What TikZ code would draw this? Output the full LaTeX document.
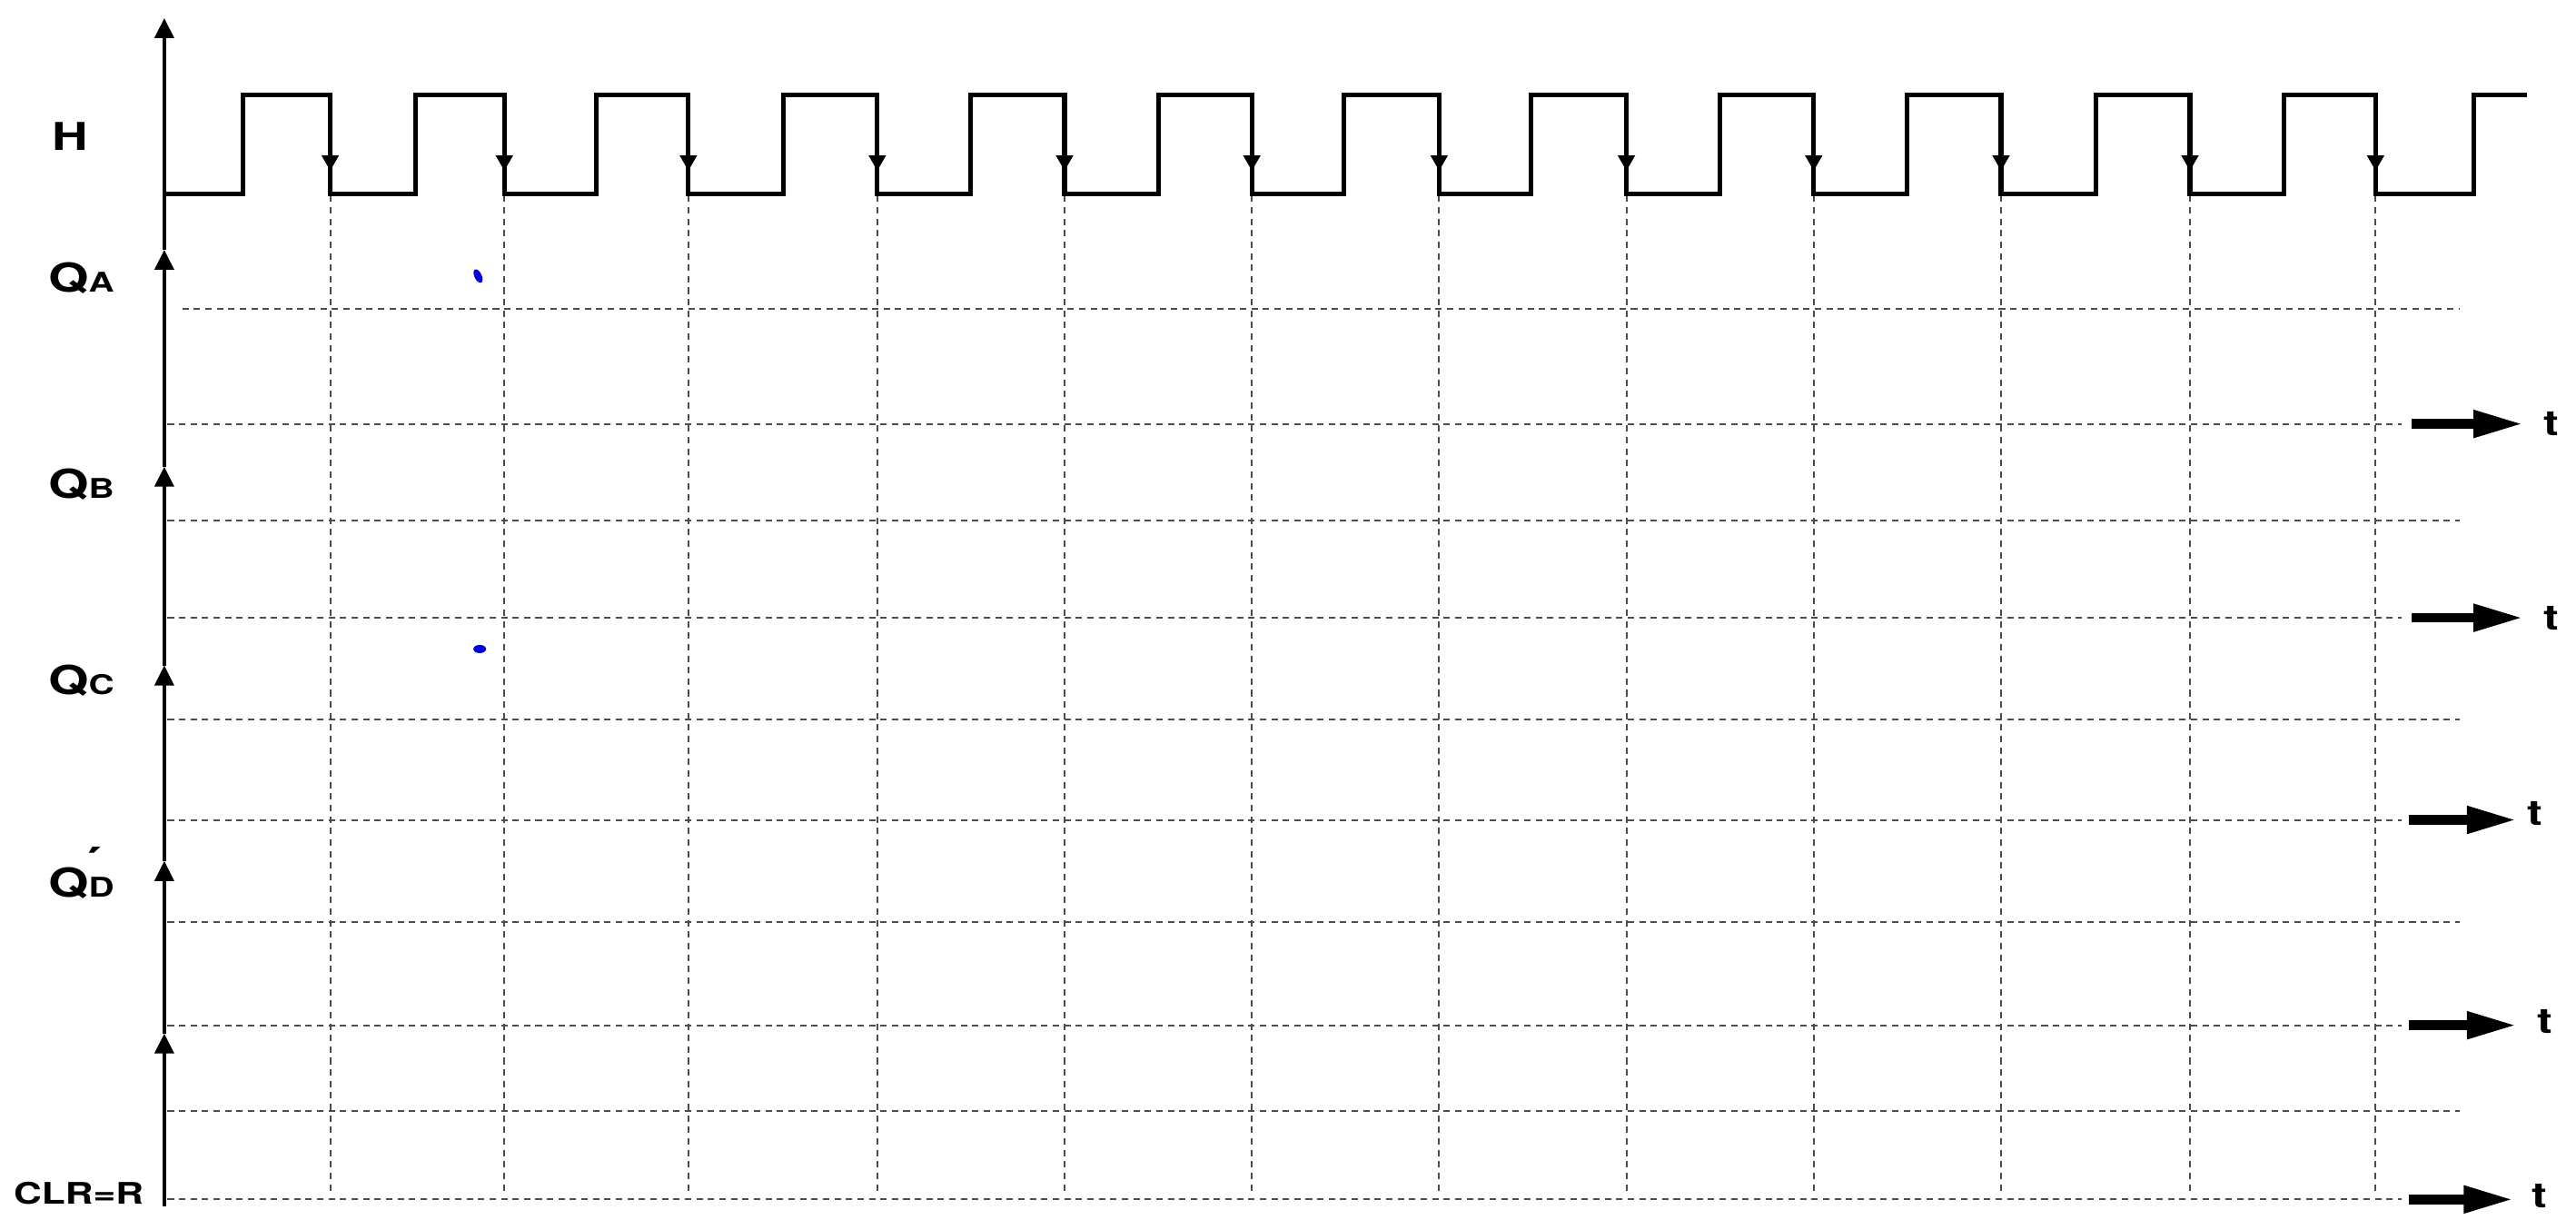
\documentclass[tikz,border=0pt]{standalone}
\usepackage{fontspec}
\usepackage{graphicx}
\setmainfont{TeX Gyre Heros}
\usetikzlibrary{arrows.meta}
\newcommand\siglab[2]{\scalebox{1.3}[1]{\fontsize{12.5}{12.5}\selectfont\bfseries #1\fontsize{8.5}{8.5}\selectfont #2}}
\newcommand\plainlab[2]{\scalebox{1.3}[1]{\fontsize{#1}{#1}\selectfont\bfseries #2}}
\begin{document}
\begin{tikzpicture}[x=0.018087cm,y=-0.018087cm,
  lbl/.style={inner sep=0pt, anchor=base west},
  gridline/.style={line width=0.55pt, black!70, dash pattern=on 2pt off 1.6pt},
  wave/.style={line width=1.45pt, line join=miter},
  axisline/.style={line width=1pt, -{Triangle[width=0.21cm,length=0.22cm]}},
  edgearrow/.style={line width=1.2pt, -{Triangle[width=0.18cm,length=0.17cm]}},
  tarrow/.style={line width=3pt, -{Triangle[width=0.28cm,length=0.55cm]}},
  tlbl/.style={inner sep=0pt}]
\useasboundingbox (0,0) rectangle (1568,742);

% vertical axis with arrows
\coordinate (a0) at (100,734);
\coordinate (a1) at (100,629);
\coordinate (a2) at (100,524);
\coordinate (a3) at (100,405);
\coordinate (a4) at (100,284);
\coordinate (a5) at (100,152);
\coordinate (a6) at (100,11);
\draw[axisline] (a0) -- (a1);
\draw[axisline] (a1) -- (a2);
\draw[axisline] (a2) -- (a3);
\draw[axisline] (a3) -- (a4);
\draw[axisline] (a4) -- (a5);
\draw[axisline] (a5) -- (a6);

% labels
\node[lbl] (h)  at (31.5,91.5) {\plainlab{12}{H}};
\node[lbl] (qa) at (29,177.5) {\siglab{Q}{A}};
\node[lbl] (qb) at (29,303) {\siglab{Q}{B}};
\node[lbl] (qc) at (29,422.5) {\siglab{Q}{C}};
\node[lbl] (qd) at (29,546) {\siglab{Q\rlap{\raisebox{0.5em}{\kern-0.1em\char"00B4}}}{D}};
\node[lbl] (clr) at (8,733) {\plainlab{9.3}{CLR=R}};

% vertical dashed lines at falling edges
\foreach \x in {201,307,419,534,648,762,876,990,1104,1218,1333,1446}{
  \draw[gridline] (\x,119) -- (\x,725);
}

% horizontal dashed lines
\draw[gridline] (111,188) -- (1497,188);
\foreach \y in {317,438,561,676}{
  \draw[gridline] (102,\y) -- (1497,\y);
}
\foreach \y in {258,376,499,624,730}{
  \draw[gridline] (102,\y) -- (1462,\y);
}

% clock waveform H
\draw[wave] (100,118) -- (148,118) -- (148,58) -- (201,58) -- (201,118)
  -- (253,118) -- (253,58) -- (307,58) -- (307,118)
  -- (363,118) -- (363,58) -- (419,58) -- (419,118)
  -- (477,118) -- (477,58) -- (534,58) -- (534,118)
  -- (591,118) -- (591,58) -- (648,58) -- (648,118)
  -- (705,118) -- (705,58) -- (762,58) -- (762,118)
  -- (818,118) -- (818,58) -- (876,58) -- (876,118)
  -- (932,118) -- (932,58) -- (990,58) -- (990,118)
  -- (1047,118) -- (1047,58) -- (1104,58) -- (1104,118)
  -- (1161,118) -- (1161,58) -- (1218,58) -- (1218,118)
  -- (1276,118) -- (1276,58) -- (1333,58) -- (1333,118)
  -- (1390,118) -- (1390,58) -- (1446,58) -- (1446,118)
  -- (1506,118) -- (1506,58) -- (1538,58);
\foreach \x in {201,307,419,534,648,762,876,990,1104,1218,1333,1446}{
  \draw[edgearrow] (\x,80) -- (\x,104);
}

% t arrows and labels
\coordinate (s1) at (1468,258); \coordinate (e1) at (1536,258);
\coordinate (s2) at (1468,376); \coordinate (e2) at (1536,376);
\coordinate (s3) at (1466,499); \coordinate (e3) at (1532,499);
\coordinate (s4) at (1466,624); \coordinate (e4) at (1532,624);
\coordinate (s5) at (1466,730); \coordinate (e5) at (1530,730);
\foreach \i in {1,...,5}{ \draw[tarrow] (s\i) -- (e\i); }
\node[tlbl] (t1) at (1553,258) {\plainlab{11}{t}};
\node[tlbl] (t2) at (1553,376) {\plainlab{11}{t}};
\node[tlbl] (t3) at (1543,495) {\plainlab{11}{t}};
\node[tlbl] (t4) at (1549,622) {\plainlab{11}{t}};
\node[tlbl] (t5) at (1546,728) {\plainlab{11}{t}};

% ink specks
\fill[blue!85!black, rotate around={25:(291,168)}] (291,168) ellipse [x radius=0.04cm, y radius=0.08cm];
\fill[blue!85!black] (292,395) ellipse [x radius=0.07cm, y radius=0.045cm];
\end{tikzpicture}
\end{document}
